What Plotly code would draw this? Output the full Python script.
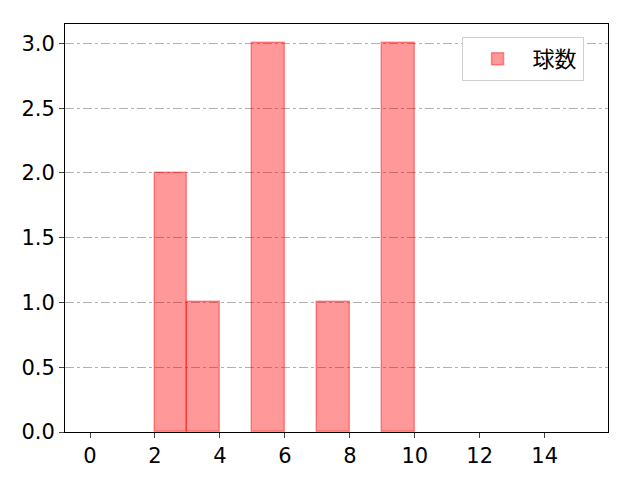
import plotly.graph_objects as go

# histogram bins (left edges) and counts
bin_left = [0, 1, 2, 3, 4, 5, 6, 7, 8, 9, 10, 11, 12, 13, 14]
counts = [0, 0, 2, 1, 0, 3, 0, 1, 0, 3, 0, 0, 0, 0, 0]
series_name = "球数"

x_ticks = [0, 2, 4, 6, 8, 10, 12, 14]
y_ticks = [0.0, 0.5, 1.0, 1.5, 2.0, 2.5, 3.0]

xs = [b + 0.5 for b, c in zip(bin_left, counts) if c > 0]
ys = [c for c in counts if c > 0]

fig = go.Figure()
fig.add_trace(go.Bar(
    x=xs, y=ys, width=1, name=series_name, showlegend=True,
    marker=dict(color="rgba(255,0,0,0.4)",
                line=dict(color="rgba(255,0,0,0.4)", width=1.5)),
))

tick_font = dict(family="DejaVu Sans, sans-serif", size=21, color="black")
# page body adds ~8px offset, margins compensate for it
fig.update_layout(
    width=640, height=480,
    margin=dict(l=57, r=40, t=16, b=56),
    plot_bgcolor="white", paper_bgcolor="white",
    font=dict(family="Noto Sans CJK JP, sans-serif", size=20, color="black"),
    bargap=0,
    legend=dict(x=0.955, y=0.968, xanchor="right", yanchor="top",
                bordercolor="#d0d0d0", borderwidth=1, itemwidth=60,
                font=dict(size=22), bgcolor="white"),
)
fig.update_xaxes(
    range=[-0.77, 15.95], tickvals=x_ticks, ticks="outside", ticklen=5,
    tickfont=tick_font,
    showgrid=False, showline=True, linecolor="black", mirror=True, linewidth=1,
    zeroline=False,
)
fig.update_yaxes(
    range=[0, 3.15], tickvals=y_ticks, tickformat=".1f", ticks="outside", ticklen=5,
    tickfont=tick_font,
    showgrid=True, gridcolor="#b0b0b0", griddash="dashdot", gridwidth=1,
    showline=True, linecolor="black", mirror=True, linewidth=1, zeroline=False,
)
fig.write_html("out.html")
